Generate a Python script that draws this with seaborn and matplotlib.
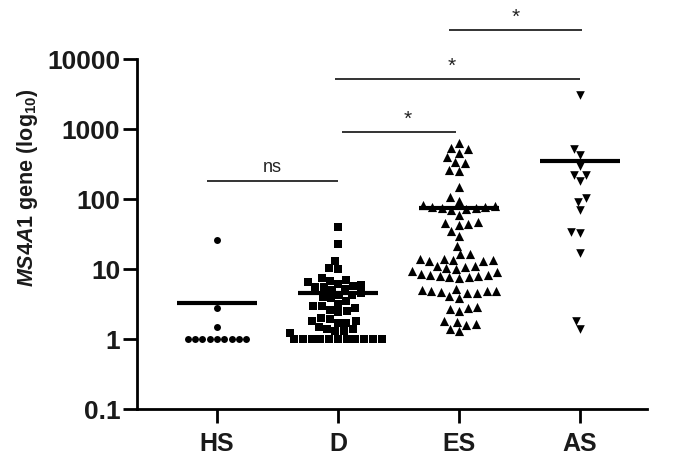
import numpy as np
import pandas as pd
import matplotlib
matplotlib.use("Agg")
import matplotlib.pyplot as plt
import seaborn as sns

# ---------------- data ----------------
categories = ["HS", "D", "ES", "AS"]
markers = ["o", "s", "^", "v"]
marker_sizes = [5.0, 6.0, 6.6, 6.2]

hs_values = [26, 2.8, 1.5] + [1.0] * 9
d_values = [40, 23, 13, 10.5, 10,
            7.5, 7, 6.8, 6.5, 6.2,
            6, 5.8, 5.5, 5.5, 5.2, 5,
            4.5, 4.3, 4.2, 4, 3.8,
            3.5, 3.2, 3.0, 3.0,
            2.8, 2.6, 2.5, 2.4,
            2.0, 1.9, 1.8, 1.8, 1.7, 1.7,
            1.5, 1.4, 1.4, 1.3, 1.3, 1.2] + [1.0] * 11
es_values = [631, 454, 530, 518, 394, 323, 334, 262, 253,
             147, 106, 95,
             82, 80, 78, 76, 75, 74, 72, 70,
             59, 47, 45, 44, 42, 35, 30, 21.6, 16.5, 16.2,
             14, 13.8, 13.5, 13.3, 13, 12.8,
             11.2, 11, 10.8, 10.2, 10,
             9.4, 9.2,
             8.5, 8.3, 8.1, 8, 7.9, 7.8, 7.6, 7.5,
             5.2, 5.0, 4.9, 4.9, 4.8, 4.7, 4.6, 4.5,
             4.1, 3.9,
             2.9, 2.8, 2.7, 2.5,
             1.8, 1.75, 1.65, 1.6,
             1.4, 1.3]
as_values = [3040, 521, 421, 295, 222, 222, 179, 105, 91, 69, 34, 32.5, 17, 1.8, 1.4]
group_values = [hs_values, d_values, es_values, as_values]

y_ticks = [0.1, 1, 10, 100, 1000, 10000]
y_tick_labels = ["0.1", "1", "10", "100", "1000", "10000"]

# significance brackets: (group a, group b), label, height
sig_pairs = [(0, 1), (1, 2), (1, 3), (2, 3)]
sig_labels = ["ns", "*", "*", "*"]
sig_heights = [181, 906, 5180, 25950]

# ---------------- plot ----------------
plt.rcParams["font.family"] = ["Liberation Sans", "DejaVu Sans"]
plt.rcParams["mathtext.fontset"] = "custom"
plt.rcParams["mathtext.rm"] = "Liberation Sans:bold"
plt.rcParams["mathtext.it"] = "Liberation Sans:italic:bold"
plt.rcParams["mathtext.bf"] = "Liberation Sans:bold"

fig = plt.figure(figsize=(6.73, 4.60), dpi=100)
ax = fig.add_axes([137 / 673, 50 / 460, (647 - 137) / 673, 350 / 460])

rows = []
for cat, vals in zip(categories, group_values):
    for v in vals:
        rows.append({"group": cat, "value": v})
df = pd.DataFrame(rows)

for cat, mk, ms in zip(categories, markers, marker_sizes):
    sub = df[df["group"] == cat]
    sns.swarmplot(data=sub, x="group", y="value", order=categories, marker=mk,
                  size=ms, color="black", linewidth=0, log_scale=(False, True),
                  ax=ax, warn_thresh=1.0)

# mean lines
for i, vals in enumerate(group_values):
    m = np.mean(vals)
    ax.hlines(m, i - 0.33, i + 0.33, color="black", lw=3, zorder=5)

ax.set_yscale("log")
ax.set_ylim(0.1, 10000)
ax.set_xlim(-0.661, 3.554)
ax.set_yticks(y_ticks)
ax.set_yticklabels(y_tick_labels)
ax.minorticks_off()
ax.set_xticks(range(len(categories)))
ax.set_xticklabels(categories)
ax.set_xlabel("")
ax.set_ylabel("")

for s in ["top", "right"]:
    ax.spines[s].set_visible(False)
for s in ["left", "bottom"]:
    ax.spines[s].set_linewidth(2.0)
    ax.spines[s].set_color("black")
ax.tick_params(axis="both", length=10, width=2, color="black", pad=2)
for lab in ax.get_yticklabels():
    lab.set_fontsize(19)
    lab.set_fontweight("bold")
    lab.set_color("#1a1a1a")
for lab in ax.get_xticklabels():
    lab.set_fontsize(18)
    lab.set_fontweight("bold")
    lab.set_color("#1a1a1a")
ax.tick_params(axis="x", pad=6)

# y-axis label
fig.text(27 / 673, 1 - 188 / 460, r"$\mathit{MS4A1}$ gene (log$_{10}$)",
         rotation=90, ha="center", va="center", fontsize=15.5,
         fontweight="bold", color="#1a1a1a")

# significance brackets
start_off = [-0.083, 0.033, -0.025, -0.083]
end_off = [0.0, -0.025, 0.0, 0.017]
text_x_off = [0.46, 0.58, 0.94, 0.47]
for (a, b), lab, h, so, eo, tx in zip(sig_pairs, sig_labels, sig_heights,
                                       start_off, end_off, text_x_off):
    ax.plot([a + so, b + eo], [h, h], color="#333333", lw=1.4,
            clip_on=False, solid_capstyle="butt")
    ax.annotate(lab, xy=(a + tx, h), xytext=(0, 4 if lab == "ns" else 3),
                textcoords="offset points", ha="center", va="bottom",
                fontsize=13 if lab == "ns" else 15, color="#222222",
                annotation_clip=False)

fig.savefig("out.png", dpi=100)
